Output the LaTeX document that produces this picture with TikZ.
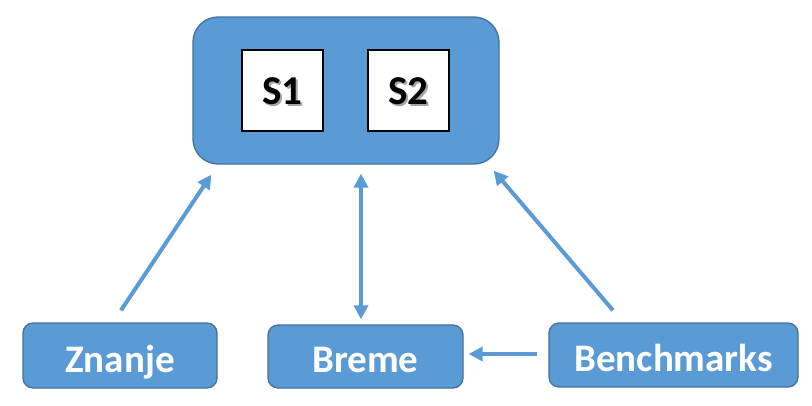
\documentclass[tikz,border=0pt]{standalone}
\usepackage{fontspec}
\setmainfont{Carlito}
\usetikzlibrary{calc,arrows.meta}
\definecolor{boxblue}{HTML}{5B9BD5}
\definecolor{boxedge}{HTML}{41719C}
\newcommand\shtext[1]{\makebox[0pt][l]{\kern1.6pt\raisebox{-1.6pt}{\color{black!35}#1}}#1}
\tikzset{
  bluebox/.style={draw=boxedge, line width=1.3pt, fill=boxblue, rounded corners=10pt,
    text=white, font=\fontsize{39}{44}\selectfont\bfseries, inner sep=0pt,
    text height=25pt, text depth=0pt},
  sbox/.style={draw=black, line width=1.5pt, fill=white, inner sep=0pt,
    minimum width=81pt, minimum height=81pt, font=\fontsize{41}{44}\selectfont\bfseries,
    text height=26pt, text depth=0pt},
  tip/.style={},
  arr/.style={draw=boxblue, line width=4pt, -{Triangle[length=14pt,width=14pt]}},
  darr/.style={draw=boxblue, line width=4pt, {Triangle[length=14pt,width=14pt]}-{Triangle[length=14pt,width=14pt]}}
}
\begin{document}
\begin{tikzpicture}[x=1pt,y=1pt,yscale=-1]
\useasboundingbox (0,0) rectangle (812,405);
\node[bluebox, rounded corners=25pt, minimum width=306pt, minimum height=147pt] (top) at (346,90.5) {};
\node[sbox] (s1) at (282.5,90.5) {\raisebox{-1pt}{\shtext{S1}}};
\node[sbox] (s2) at (408.5,90.5) {\raisebox{-1pt}{\shtext{S2}}};
\node[bluebox, minimum width=194pt, minimum height=65pt] (zn) at (120,355.5) {\raisebox{-4.5pt}{Znanje}};
\node[bluebox, minimum width=195pt, minimum height=63pt] (br) at (365.5,356.5) {\raisebox{-3.5pt}{Breme}};
\node[bluebox, minimum width=249pt, minimum height=64pt] (be) at (673.5,355) {\raisebox{-4pt}{Benchmarks}};
\draw[arr] ($(zn.north)+(1,-12)$) -- ($(top.south west)+(19,10)$);
\draw[darr] ($(br.north)+(-4.5,-5)$) -- ($(top.south)+(15,9)$);
\draw[arr] ($(be.north)+(-60.5,-12)$) -- ($(top.south east)+(-6,6)$);
\draw[arr] ($(be.west)+(-11,-1)$) -- ($(br.east)+(5,-2.5)$);
\end{tikzpicture}
\end{document}
